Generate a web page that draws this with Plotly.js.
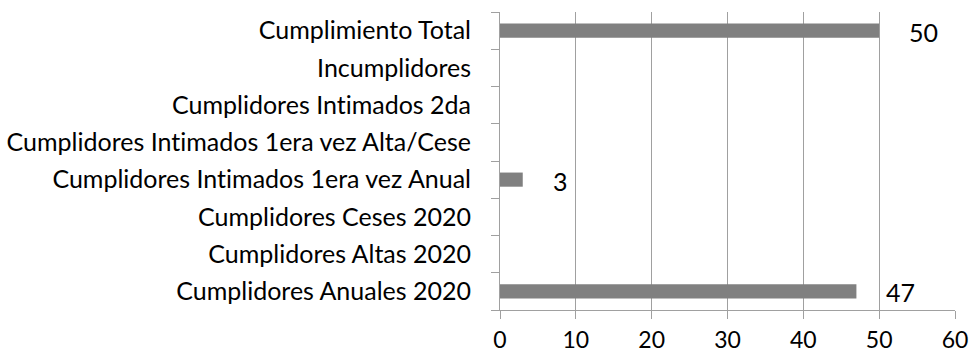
<!DOCTYPE html>
<html>
<head>
<meta charset="utf-8">
<script src="https://cdn.plot.ly/plotly-3.0.1.min.js"></script>
<style>
  html, body { margin: 0; padding: 0; background: #ffffff; }
  #chart { width: 973px; height: 354px; }
  #chart svg text { font-variant-ligatures: none; font-feature-settings: "liga" 0; }
</style>
</head>
<body>
<div id="chart"></div>
<script>
// Categories listed bottom to top, as drawn on the vertical axis
const categories = [
  "Cumplidores Anuales 2020",
  "Cumplidores Altas 2020",
  "Cumplidores Ceses 2020",
  "Cumplidores Intimados 1era vez Anual",
  "Cumplidores Intimados 1era vez Alta/Cese",
  "Cumplidores Intimados 2da",
  "Incumplidores",
  "Cumplimiento Total"
];
const values = [47, 0, 0, 3, 0, 0, 0, 50];
const xTicks = [0, 10, 20, 30, 40, 50, 60];

const FONT = "Lato, 'Open Sans', sans-serif";
const FONT_SIZE = 25;
const GRID = "#a0a0a0";

const trace = {
  type: "bar",
  orientation: "h",
  y: categories,
  x: values,
  marker: { color: "#808080" },
  hoverinfo: "none"
};

// Value labels sit to the right of each non-zero bar
const labels = [];
values.forEach((v, i) => {
  if (v > 0) {
    labels.push({
      x: v, y: categories[i], xref: "x", yref: "y",
      text: String(v), showarrow: false,
      xanchor: "left", yanchor: "middle", xshift: 28, yshift: -1,
      font: { family: FONT, size: FONT_SIZE, color: "#000000" }
    });
  }
});

const layout = {
  width: 973,
  height: 354,
  margin: { l: 500, r: 18, t: 12, b: 44 },
  paper_bgcolor: "#ffffff",
  plot_bgcolor: "#ffffff",
  showlegend: false,
  bargap: 0.62,
  font: { family: FONT, size: FONT_SIZE, color: "#000000" },
  xaxis: {
    range: [0, 60],
    tickvals: xTicks,
    ticktext: xTicks.map(String),
    tickfont: { family: FONT, size: 23, color: "#000000" },
    showgrid: true,
    gridcolor: GRID,
    gridwidth: 1,
    zeroline: false,
    showline: true,
    linecolor: GRID,
    linewidth: 1,
    ticks: "outside",
    ticklen: 8,
    tickcolor: GRID,
    ticklabelstandoff: 1,
    fixedrange: true
  },
  yaxis: {
    type: "category",
    range: [-0.5, 7.5],
    tickson: "boundaries",
    showgrid: false,
    zeroline: false,
    showline: true,
    linecolor: GRID,
    linewidth: 1,
    ticks: "outside",
    ticklen: 8,
    tickcolor: GRID,
    ticklabelstandoff: 23,
    fixedrange: true
  },
  annotations: labels
};

Plotly.newPlot("chart", [trace], layout, { displayModeBar: false, staticPlot: true });
</script>
</body>
</html>
